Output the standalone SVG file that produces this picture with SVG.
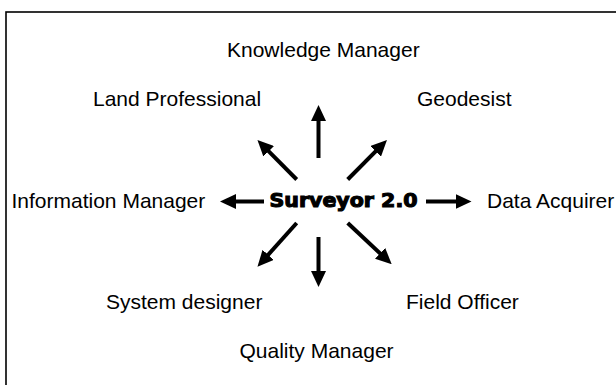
<svg xmlns="http://www.w3.org/2000/svg" width="616" height="385" viewBox="0 0 616 385">
<style>
.lbl{font-family:"Liberation Sans",Arial,sans-serif;font-size:21px;fill:#000}
.ttl{font-family:"DejaVu Sans",sans-serif;font-weight:bold;font-size:19px;fill:#000;stroke:#000;stroke-width:1.1}
.arr{stroke:#000;stroke-width:4;fill:none;marker-end:url(#head)}
</style>
<defs>
<marker id="head" markerUnits="userSpaceOnUse" markerWidth="16" markerHeight="15" refX="2" refY="7.5" orient="auto" viewBox="0 0 16 15">
<path d="M0,0 L16,7.5 L0,15 z" fill="#000"/>
</marker>
</defs>
<rect x="0" y="0" width="616" height="385" fill="#fff"/>
<rect x="6" y="12" width="620" height="390" fill="none" stroke="#000" stroke-width="1.6"/>
<g id="connectors">
<line class="arr" x1="318.5" y1="158" x2="318.5" y2="119"/>
<line class="arr" x1="264" y1="201.5" x2="234" y2="201.5"/>
<line class="arr" x1="426" y1="201.5" x2="457.5" y2="201.5"/>
<line class="arr" x1="318.5" y1="237" x2="318.5" y2="273"/>
<line class="arr" x1="296.7" y1="179.5" x2="267.3" y2="149.9"/>
<line class="arr" x1="347.7" y1="179.5" x2="377.1" y2="149.9"/>
<line class="arr" x1="296.7" y1="223" x2="266.8" y2="256.3"/>
<line class="arr" x1="347.7" y1="223" x2="381.5" y2="254.7"/>
</g>
<g id="surveyor"><text class="ttl" x="269.5" y="206.5" textLength="148" lengthAdjust="spacingAndGlyphs">Surveyor 2.0</text></g>
<g id="knowledge-manager"><text class="lbl" x="227" y="57">Knowledge Manager</text></g>
<g id="land-professional"><text class="lbl" x="93" y="106">Land Professional</text></g>
<g id="geodesist"><text class="lbl" x="417" y="106">Geodesist</text></g>
<g id="information-manager"><text class="lbl" x="11.5" y="208">Information Manager</text></g>
<g id="data-acquirer"><text class="lbl" x="487" y="208">Data Acquirer</text></g>
<g id="system-designer"><text class="lbl" x="106" y="308.5">System designer</text></g>
<g id="field-officer"><text class="lbl" x="406" y="309">Field Officer</text></g>
<g id="quality-manager"><text class="lbl" x="239.5" y="357.5">Quality Manager</text></g>
</svg>
